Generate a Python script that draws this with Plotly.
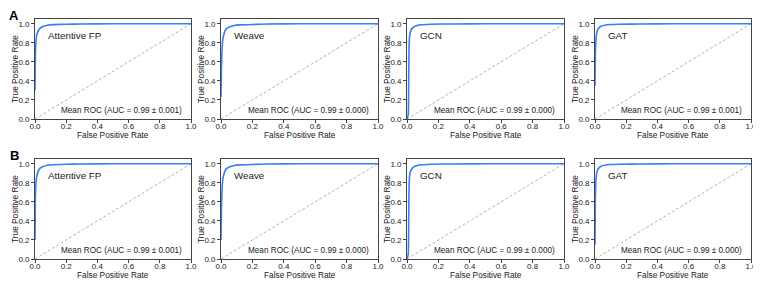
import plotly.graph_objects as go

# ---- data ----
panel_letters = ["A", "B"]
model_names = ["Attentive FP", "Weave", "GCN", "GAT"]
x_title = "False Positive Rate"
y_title = "True Positive Rate"
auc_text = [
    ["0.99 ± 0.001", "0.99 ± 0.000", "0.99 ± 0.000", "0.99 ± 0.001"],
    ["0.99 ± 0.001", "0.99 ± 0.000", "0.99 ± 0.000", "0.99 ± 0.000"],
]
tick_vals = [0.0, 0.2, 0.4, 0.6, 0.8, 1.0]

fpr_afp_a = [0, 0, 0.002, 0.005, 0.01, 0.02, 0.03, 0.05, 0.08, 0.12, 0.2, 0.3, 0.5, 1.0]
tpr_afp_a = [0.30, 0.30, 0.62, 0.78, 0.87, 0.925, 0.95, 0.972, 0.985, 0.991, 0.995, 0.998, 1.0, 1.0]
fpr_weave_a = [0, 0, 0.003, 0.007, 0.012, 0.02, 0.03, 0.05, 0.08, 0.12, 0.2, 0.3, 0.5, 1.0]
tpr_weave_a = [0.23, 0.23, 0.55, 0.74, 0.84, 0.9, 0.94, 0.965, 0.98, 0.988, 0.993, 0.997, 1.0, 1.0]
fpr_gcn_a = [0, 0.008, 0.011, 0.013, 0.016, 0.02, 0.03, 0.045, 0.07, 0.1, 0.15, 0.3, 0.5, 1.0]
tpr_gcn_a = [0.0, 0.05, 0.45, 0.75, 0.86, 0.91, 0.945, 0.97, 0.985, 0.99, 0.995, 0.998, 1.0, 1.0]
fpr_gat_a = [0, 0, 0.002, 0.005, 0.009, 0.015, 0.025, 0.04, 0.07, 0.1, 0.15, 0.3, 0.5, 1.0]
tpr_gat_a = [0.35, 0.35, 0.65, 0.8, 0.88, 0.93, 0.955, 0.975, 0.987, 0.992, 0.995, 0.998, 1.0, 1.0]

fpr_afp_b = [0, 0, 0.002, 0.005, 0.01, 0.02, 0.03, 0.05, 0.08, 0.12, 0.2, 0.3, 0.5, 1.0]
tpr_afp_b = [0.20, 0.20, 0.6, 0.77, 0.86, 0.92, 0.95, 0.97, 0.984, 0.99, 0.995, 0.998, 1.0, 1.0]
fpr_weave_b = [0, 0, 0.003, 0.007, 0.012, 0.02, 0.03, 0.05, 0.08, 0.12, 0.2, 0.3, 0.5, 1.0]
tpr_weave_b = [0.2, 0.2, 0.55, 0.74, 0.84, 0.9, 0.94, 0.965, 0.98, 0.988, 0.993, 0.997, 1.0, 1.0]
fpr_gcn_b = [0, 0.008, 0.011, 0.013, 0.016, 0.02, 0.03, 0.045, 0.07, 0.1, 0.15, 0.3, 0.5, 1.0]
tpr_gcn_b = [0.0, 0.05, 0.45, 0.75, 0.86, 0.91, 0.945, 0.97, 0.985, 0.99, 0.995, 0.998, 1.0, 1.0]
fpr_gat_b = [0, 0, 0.002, 0.005, 0.009, 0.015, 0.025, 0.04, 0.07, 0.1, 0.15, 0.3, 0.5, 1.0]
tpr_gat_b = [0.15, 0.15, 0.62, 0.8, 0.88, 0.93, 0.955, 0.975, 0.987, 0.992, 0.995, 0.998, 1.0, 1.0]

tpr_std = [0.0, 0.0, 0.03, 0.03, 0.025, 0.02, 0.015, 0.01, 0.006, 0.004, 0.003, 0.002, 0.0, 0.0]

curves = [
    [(fpr_afp_a, tpr_afp_a), (fpr_weave_a, tpr_weave_a), (fpr_gcn_a, tpr_gcn_a), (fpr_gat_a, tpr_gat_a)],
    [(fpr_afp_b, tpr_afp_b), (fpr_weave_b, tpr_weave_b), (fpr_gcn_b, tpr_gcn_b), (fpr_gat_b, tpr_gat_b)],
]

# ---- layout geometry (page body has an 8px margin) ----
OFF = 8
W, H = 761 - OFF, 285 - OFF
x_px = [(35, 191), (221, 378), (407, 564), (595, 751)]
y_px = [(19, 119), (159, 259)]


def px_x(p):
    return (p - OFF) / W


def px_y(p):
    return 1 - (p - OFF) / H


FONT = "Liberation Sans, Arial, sans-serif"
LINE = "#3a7ff2"
BAND = "rgba(120,170,255,0.45)"
AX = "#444444"
TXT = "#222222"

fig = go.Figure()
layout = dict(
    width=W, height=H, margin=dict(l=0, r=0, t=0, b=0, autoexpand=False),
    paper_bgcolor="white", plot_bgcolor="white", showlegend=False,
    font=dict(family=FONT, color=TXT, size=8),
)
annotations = []
k = 0
for r in range(2):
    for c in range(4):
        k += 1
        xa = "xaxis" if k == 1 else f"xaxis{k}"
        ya = "yaxis" if k == 1 else f"yaxis{k}"
        xr = "x" if k == 1 else f"x{k}"
        yr = "y" if k == 1 else f"y{k}"
        x0, x1 = x_px[c]
        y0, y1 = y_px[r]
        common = dict(
            showline=True, mirror=True, linecolor=AX, linewidth=0.8,
            ticks="outside", ticklen=3, tickwidth=0.8, tickcolor=AX,
            tickvals=tick_vals, tickformat=".1f", showgrid=False, zeroline=False,
            tickfont=dict(size=8, color=TXT, family=FONT), automargin=False,
        )
        layout[xa] = dict(domain=[px_x(x0), px_x(x1)], range=[0, 1], anchor=yr,
                          ticklabelstandoff=-4, **common)
        layout[ya] = dict(domain=[px_y(y1), px_y(y0)], range=[0, 1.05], anchor=xr, **common)
        fx, ty = curves[r][c]
        # chance line
        fig.add_trace(go.Scatter(x=[0, 1], y=[0, 1], mode="lines", xaxis=xr, yaxis=yr,
                                 line=dict(color="#aaaaaa", width=0.9, dash="3px,2px")))
        # std band
        up = [min(1.0, t + s) for t, s in zip(ty, tpr_std)]
        lo = [max(0.0, t - s) for t, s in zip(ty, tpr_std)]
        fig.add_trace(go.Scatter(x=fx, y=up, mode="lines", xaxis=xr, yaxis=yr,
                                 line=dict(width=0, color=BAND)))
        fig.add_trace(go.Scatter(x=fx, y=lo, mode="lines", xaxis=xr, yaxis=yr, fill="tonexty",
                                 fillcolor=BAND, line=dict(width=0, color=BAND)))
        # mean ROC
        fig.add_trace(go.Scatter(x=fx, y=ty, mode="lines", xaxis=xr, yaxis=yr,
                                 line=dict(color=LINE, width=1.6, shape="spline", smoothing=0.4)))
        annotations.append(dict(x=0.07, y=0.88, xref=xr, yref=yr, text=model_names[c],
                                showarrow=False, xanchor="left", yanchor="middle",
                                font=dict(size=9.8, family=FONT, color=TXT)))
        annotations.append(dict(x=0.955, y=0.085, xref=xr, yref=yr,
                                text=f"Mean ROC (AUC = {auc_text[r][c]})",
                                showarrow=False, xanchor="right", yanchor="middle",
                                font=dict(size=8.2, family=FONT, color=TXT)))
        # axis titles
        annotations.append(dict(x=px_x((x0 + x1) / 2), y=px_y(y1 + 16), xref="paper", yref="paper",
                                text=x_title, showarrow=False, xanchor="center", yanchor="middle",
                                font=dict(size=8.3, family=FONT, color=TXT)))
        annotations.append(dict(x=px_x(x0 - 20), y=px_y((y0 + y1) / 2), xref="paper", yref="paper",
                                text=y_title, showarrow=False, textangle=-90,
                                xanchor="center", yanchor="middle",
                                font=dict(size=8.3, family=FONT, color=TXT)))
for r in range(2):
    annotations.append(dict(x=px_x(14), y=px_y(y_px[r][0] - 4), xref="paper", yref="paper",
                            text=f"<b>{panel_letters[r]}</b>", showarrow=False,
                            xanchor="center", yanchor="middle",
                            font=dict(size=13, family=FONT, color="#000000")))
layout["annotations"] = annotations
fig.update_layout(**layout)
fig.write_html("out.html")
